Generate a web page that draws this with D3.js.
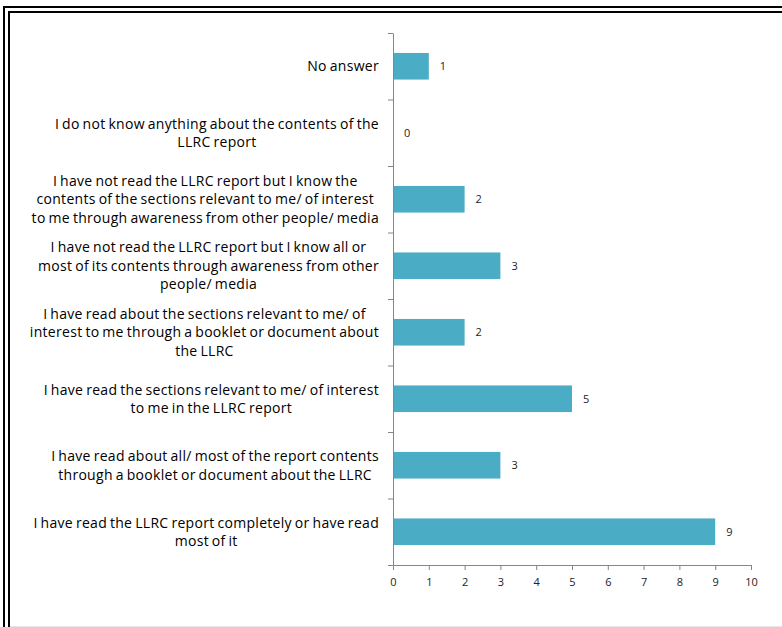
<!DOCTYPE html>
<html>
<head>
<meta charset="utf-8">
<script src="https://cdn.jsdelivr.net/npm/d3@7/dist/d3.min.js"></script>
<style>
  body { margin: 0; background: #fff; }
  svg { display: block; }
  .axis path, .axis line { stroke: #868686; }
  .axis text { font-family: "Open Sans", sans-serif; font-size: 11px; fill: #222; }
</style>
</head>
<body>
<script>
// answers, top to bottom as in the chart
const categories = [
    ["No answer"],
    ["I do not know anything about the contents of the", "LLRC report"],
    ["I have not read the LLRC report but I know the", "contents of the sections relevant to me/ of interest", "to me through awareness from other people/ media"],
    ["I have not read the LLRC report but I know all or", "most of its contents through awareness from other", "people/ media"],
    ["I have read about the sections relevant to me/ of", "interest to me through a booklet or document about", "the LLRC"],
    ["I have read the sections relevant to me/ of interest", "to me in  the LLRC report"],
    ["I have read about all/  most of the report contents", "through a booklet or document about the LLRC"],
    ["I have read the LLRC report completely or have read", "most of it"]
];
const values = [1, 0, 2, 3, 2, 5, 3, 9];
const xTicks = [0, 1, 2, 3, 4, 5, 6, 7, 8, 9, 10];

const W = 782, H = 627;
const plotL = 393, plotR = 751, plotT = 33, plotB = 565;

const svg = d3.select("body")
    .append("svg")
        .attr("width", W)
        .attr("height", H);

// double frame, cut off at right and bottom
svg.append("rect")
    .attr("x", 4).attr("y", 7)
    .attr("width", W + 20).attr("height", H + 20)
    .attr("fill", "none").attr("stroke", "#000").attr("stroke-width", 2);
svg.append("rect")
    .attr("x", 9).attr("y", 12)
    .attr("width", W + 20).attr("height", H + 20)
    .attr("fill", "none").attr("stroke", "#000").attr("stroke-width", 2);
svg.append("line")
    .attr("x1", 10).attr("x2", W).attr("y1", 626.5).attr("y2", 626.5)
    .attr("stroke", "#e6e6e6");

const ids = d3.range(categories.length);

const x = d3.scaleLinear()
    .domain([0, 10])
    .range([plotL, plotR]);

const y = d3.scaleBand()
    .domain(ids)
    .range([plotT, plotB])
    .paddingInner(0.6)
    .paddingOuter(0.3);

// band edges for the category tick marks
const yEdge = d3.scaleLinear()
    .domain([0, categories.length])
    .range([plotT, plotB]);

const g = svg.append("g");

g.selectAll("rect.bar")
    .data(values)
    .enter()
    .append("rect")
        .attr("class", "bar")
        .attr("x", x(0))
        .attr("y", (d, i) => y(i))
        .attr("width", d => x(d) - x(0))
        .attr("height", y.bandwidth())
        .attr("fill", "#4bacc6");

// x axis
g.append("g")
    .attr("class", "axis")
    .attr("transform", "translate(0," + plotB + ")")
    .call(d3.axisBottom(x).tickValues(xTicks).tickSize(5).tickSizeOuter(0).tickPadding(8))
    .call(a => a.select(".domain").attr("d", "M" + (plotL - 5) + ",0.5H" + plotR));

// y axis with ticks at band edges
g.append("g")
    .attr("class", "axis")
    .attr("transform", "translate(" + plotL + ",0)")
    .call(d3.axisLeft(yEdge).tickValues(d3.range(categories.length + 1)).tickSize(5).tickSizeOuter(0).tickFormat(""));

// value labels
g.selectAll("text.val")
    .data(values)
    .enter()
    .append("text")
        .attr("class", "val")
        .attr("x", d => x(d) + 11)
        .attr("y", (d, i) => y(i) + y.bandwidth() / 2 + 4)
        .attr("font-family", "'Open Sans', sans-serif")
        .attr("font-size", "11px")
        .attr("fill", "#222")
        .text(d => d);

// category labels, each block centred on its widest line
const lineH = 18.5;
const blocks = g.selectAll("g.cat")
    .data(categories)
    .enter()
    .append("g")
        .attr("class", "cat");

blocks.each(function(lines, i) {
    const b = d3.select(this);
    const cy = y(i) + y.bandwidth() / 2;
    const t = b.selectAll("text")
        .data(lines)
        .enter()
        .append("text")
            .attr("font-family", "'Open Sans', sans-serif")
            .attr("font-size", "14px")
            .attr("word-spacing", "-1px")
            .attr("letter-spacing", "0.3px")
            .attr("fill", "#000")
            .attr("text-anchor", "middle")
            .attr("y", (d, k) => cy + (k - (lines.length - 1) / 2) * lineH + 5)
            .text(d => d);
    let maxW = 0;
    t.each(function() { maxW = Math.max(maxW, this.getComputedTextLength()); });
    t.attr("x", 379 - maxW / 2);
});
</script>
</body>
</html>
